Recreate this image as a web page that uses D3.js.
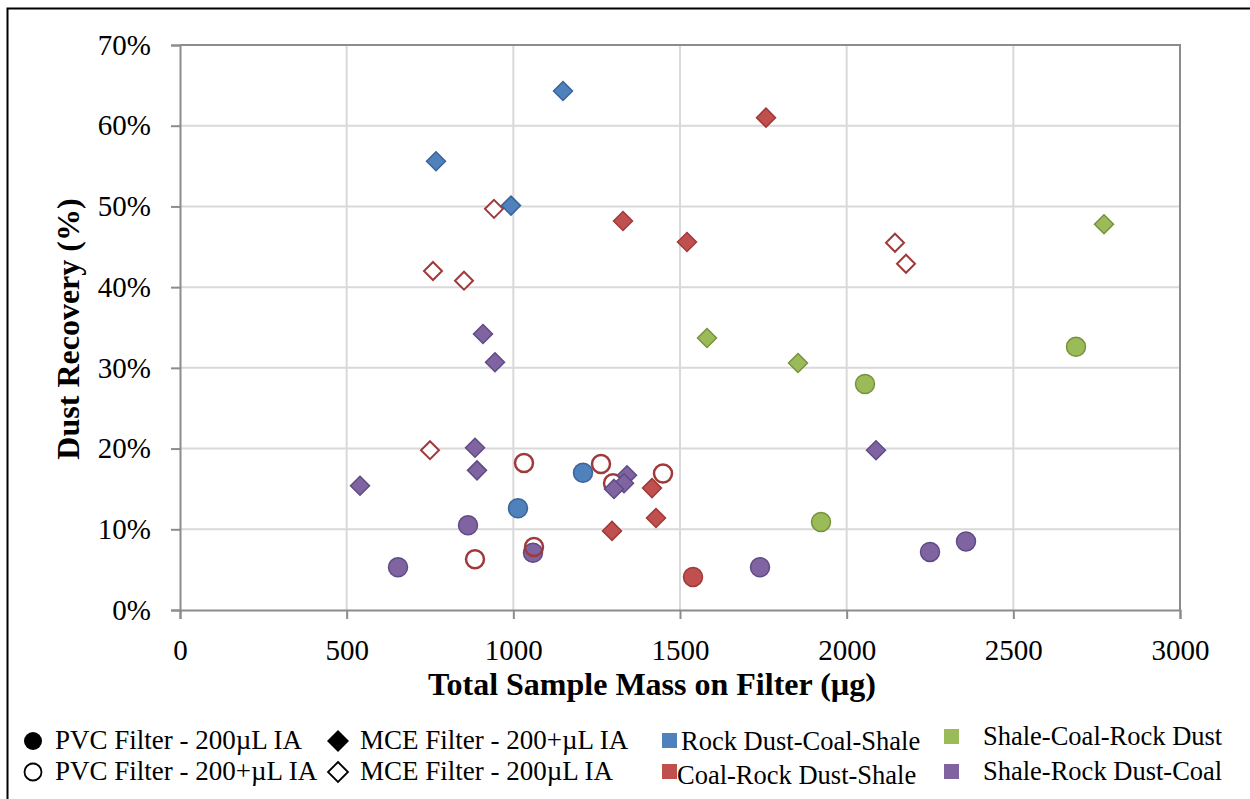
<!DOCTYPE html>
<html>
<head>
<meta charset="utf-8">
<script src="https://cdn.jsdelivr.net/npm/d3@7"></script>
<style>
  body { margin: 0; background: #fff; }
  text { font-family: "Liberation Serif", "Times New Roman", serif; }
</style>
</head>
<body>
<div id="the_chart"></div>
<script>
var xTicks = [0, 500, 1000, 1500, 2000, 2500, 3000];
var yTicks = [0, 10, 20, 30, 40, 50, 60, 70];

var groups = ["Rock Dust-Coal-Shale", "Coal-Rock Dust-Shale", "Shale-Coal-Rock Dust", "Shale-Rock Dust-Coal"];
var fills = ["#4F81BD", "#C0504D", "#9BBB59", "#8064A2"];
var edges = ["#3A649A", "#A0393A", "#76923C", "#5F4B84"];

// [mass, recovery %, group index]
var pvcFilled = [
	[1014, 12.6, 0], [1209, 17.0, 0],
	[1539, 4.1, 1],
	[2688, 32.6, 2], [2055, 28.0, 2], [1923, 10.9, 2],
	[654, 5.3, 3], [864, 10.5, 3], [1059, 7.1, 3], [1740, 5.3, 3], [2250, 7.2, 3], [2358, 8.5, 3]
];
var pvcOpen = [
	[1032, 18.2, 1], [1263, 18.1, 1], [1449, 16.9, 1], [1299, 15.7, 1], [1062, 7.8, 1], [885, 6.3, 1]
];
var mceFilled = [
	[1149, 64.3, 0], [768, 55.6, 0], [993, 50.1, 0],
	[1758, 61.0, 1], [1329, 48.2, 1], [1521, 45.6, 1], [1416, 15.1, 1], [1428, 11.4, 1], [1296, 9.8, 1],
	[2772, 47.8, 2], [1581, 33.7, 2], [1854, 30.6, 2],
	[540, 15.4, 3], [909, 34.2, 3], [945, 30.7, 3], [885, 20.1, 3], [891, 17.3, 3], [2088, 19.8, 3],
	[1341, 16.7, 3], [1332, 15.7, 3], [1302, 15.0, 3]
];
var mceOpen = [
	[759, 42.0, 1], [852, 40.8, 1], [942, 49.7, 1], [750, 19.8, 1], [2145, 45.5, 1], [2178, 42.9, 1]
];

var w = 1250, h = 799;
var padL = 180, padR = 1180, padT = 45, padB = 610;

var svg = d3.select("#the_chart").append("svg")
	.attr("width", w).attr("height", h);

// outer frame
svg.append("rect")
	.attr("x", 7.5).attr("y", 8.5)
	.attr("width", w + 10).attr("height", h + 10)
	.attr("fill", "none").attr("stroke", "#000").attr("stroke-width", 2);

var xscale = d3.scaleLinear().domain([0, 3000]).range([padL, padR]);
var yscale = d3.scaleLinear().domain([0, 70]).range([padB, padT]);

// grid
svg.append("g").selectAll("line").data(xTicks.slice(1)).enter().append("line")
	.attr("x1", function (d) { return xscale(d); }).attr("x2", function (d) { return xscale(d); })
	.attr("y1", padT).attr("y2", padB)
	.attr("stroke", "#D9D9D9").attr("stroke-width", 2);
svg.append("g").selectAll("line").data(yTicks.slice(1)).enter().append("line")
	.attr("x1", padL).attr("x2", padR)
	.attr("y1", function (d) { return yscale(d); }).attr("y2", function (d) { return yscale(d); })
	.attr("stroke", "#D9D9D9").attr("stroke-width", 2);

// plot border top/right
svg.append("path")
	.attr("d", "M" + padL + "," + padT + "H" + padR + "V" + padB)
	.attr("fill", "none").attr("stroke", "#8C8C8C").attr("stroke-width", 2);

var xaxis = d3.axisBottom(xscale).tickValues(xTicks).tickSize(9).tickPadding(20)
	.tickFormat(d3.format("d"));
var yaxis = d3.axisLeft(yscale).tickValues(yTicks).tickSize(9).tickPadding(20)
	.tickFormat(function (d) { return d + "%"; });

var gx = svg.append("g").attr("transform", "translate(0," + padB + ")").call(xaxis);
var gy = svg.append("g").attr("transform", "translate(" + padL + ",0)").call(yaxis);
[gx, gy].forEach(function (g) {
	g.select(".domain").attr("stroke", "#8C8C8C").attr("stroke-width", 2);
	g.selectAll(".tick line").attr("stroke", "#8C8C8C").attr("stroke-width", 2);
	g.selectAll(".tick text").attr("font-family", "Liberation Serif").attr("font-size", 29).attr("fill", "#000");
});

svg.append("text")
	.attr("x", 652).attr("y", 695)
	.attr("text-anchor", "middle").attr("font-size", 32).attr("font-weight", "bold")
	.text("Total Sample Mass on Filter (µg)");
svg.append("text")
	.attr("transform", "translate(79,329) rotate(-90)")
	.attr("text-anchor", "middle").attr("font-size", 32).attr("font-weight", "bold")
	.text("Dust Recovery (%)");

var diamond = function (s) { return "M0," + (-s) + "L" + s + ",0L0," + s + "L" + (-s) + ",0Z"; };

var marks = svg.append("g");
marks.selectAll(".mo").data(mceOpen).enter().append("path")
	.attr("d", diamond(9))
	.attr("transform", function (d) { return "translate(" + xscale(d[0]) + "," + yscale(d[1]) + ")"; })
	.attr("fill", "#fff").attr("stroke", function (d) { return edges[d[2]]; }).attr("stroke-width", 2);
marks.selectAll(".pf").data(pvcFilled).enter().append("circle")
	.attr("cx", function (d) { return xscale(d[0]); }).attr("cy", function (d) { return yscale(d[1]); })
	.attr("r", 9.5)
	.attr("fill", function (d) { return fills[d[2]]; }).attr("stroke", function (d) { return edges[d[2]]; }).attr("stroke-width", 1.5);
marks.selectAll(".po").data(pvcOpen).enter().append("circle")
	.attr("cx", function (d) { return xscale(d[0]); }).attr("cy", function (d) { return yscale(d[1]); })
	.attr("r", 9)
	.attr("fill", "#fff").attr("fill-opacity", 0).attr("stroke", function (d) { return edges[d[2]]; }).attr("stroke-width", 2.5);
marks.selectAll(".mf").data(mceFilled).enter().append("path")
	.attr("d", diamond(9.5))
	.attr("transform", function (d) { return "translate(" + xscale(d[0]) + "," + yscale(d[1]) + ")"; })
	.attr("fill", function (d) { return fills[d[2]]; }).attr("stroke", function (d) { return edges[d[2]]; }).attr("stroke-width", 1.5);

// legend
var lg = svg.append("g");
var symItems = [
	{ x: 33, y: 741, shape: "circle", filled: true, label: "PVC Filter - 200µL IA" },
	{ x: 33, y: 772, shape: "circle", filled: false, label: "PVC Filter - 200+µL IA" },
	{ x: 338, y: 741, shape: "diamond", filled: true, label: "MCE Filter - 200+µL IA" },
	{ x: 338, y: 772, shape: "diamond", filled: false, label: "MCE Filter - 200µL IA" }
];
symItems.forEach(function (it) {
	if (it.shape == "circle") {
		lg.append("circle").attr("cx", it.x).attr("cy", it.y).attr("r", it.filled ? 9 : 8.5)
			.attr("fill", it.filled ? "#000" : "#fff").attr("stroke", "#000").attr("stroke-width", it.filled ? 0 : 1.8);
	} else {
		lg.append("path").attr("d", diamond(it.filled ? 11 : 10))
			.attr("transform", "translate(" + it.x + "," + it.y + ")")
			.attr("fill", it.filled ? "#000" : "#fff").attr("stroke", "#000").attr("stroke-width", it.filled ? 0 : 1.8);
	}
	lg.append("text").attr("x", it.x + 22).attr("y", it.y + 8).attr("font-size", 27).text(it.label);
});
var colItems = [
	{ sx: 662, sy: 733, tx: 681, ty: 750, g: 0 },
	{ sx: 662, sy: 764, tx: 677, ty: 784, g: 1 },
	{ sx: 944, sy: 729, tx: 983, ty: 745, g: 2 },
	{ sx: 944, sy: 764, tx: 983, ty: 780, g: 3 }
];
colItems.forEach(function (it) {
	lg.append("rect").attr("x", it.sx).attr("y", it.sy).attr("width", 15).attr("height", 15)
		.attr("fill", fills[it.g]);
	lg.append("text").attr("x", it.tx).attr("y", it.ty).attr("font-size", 26.5).text(groups[it.g]);
});
</script>
</body>
</html>
